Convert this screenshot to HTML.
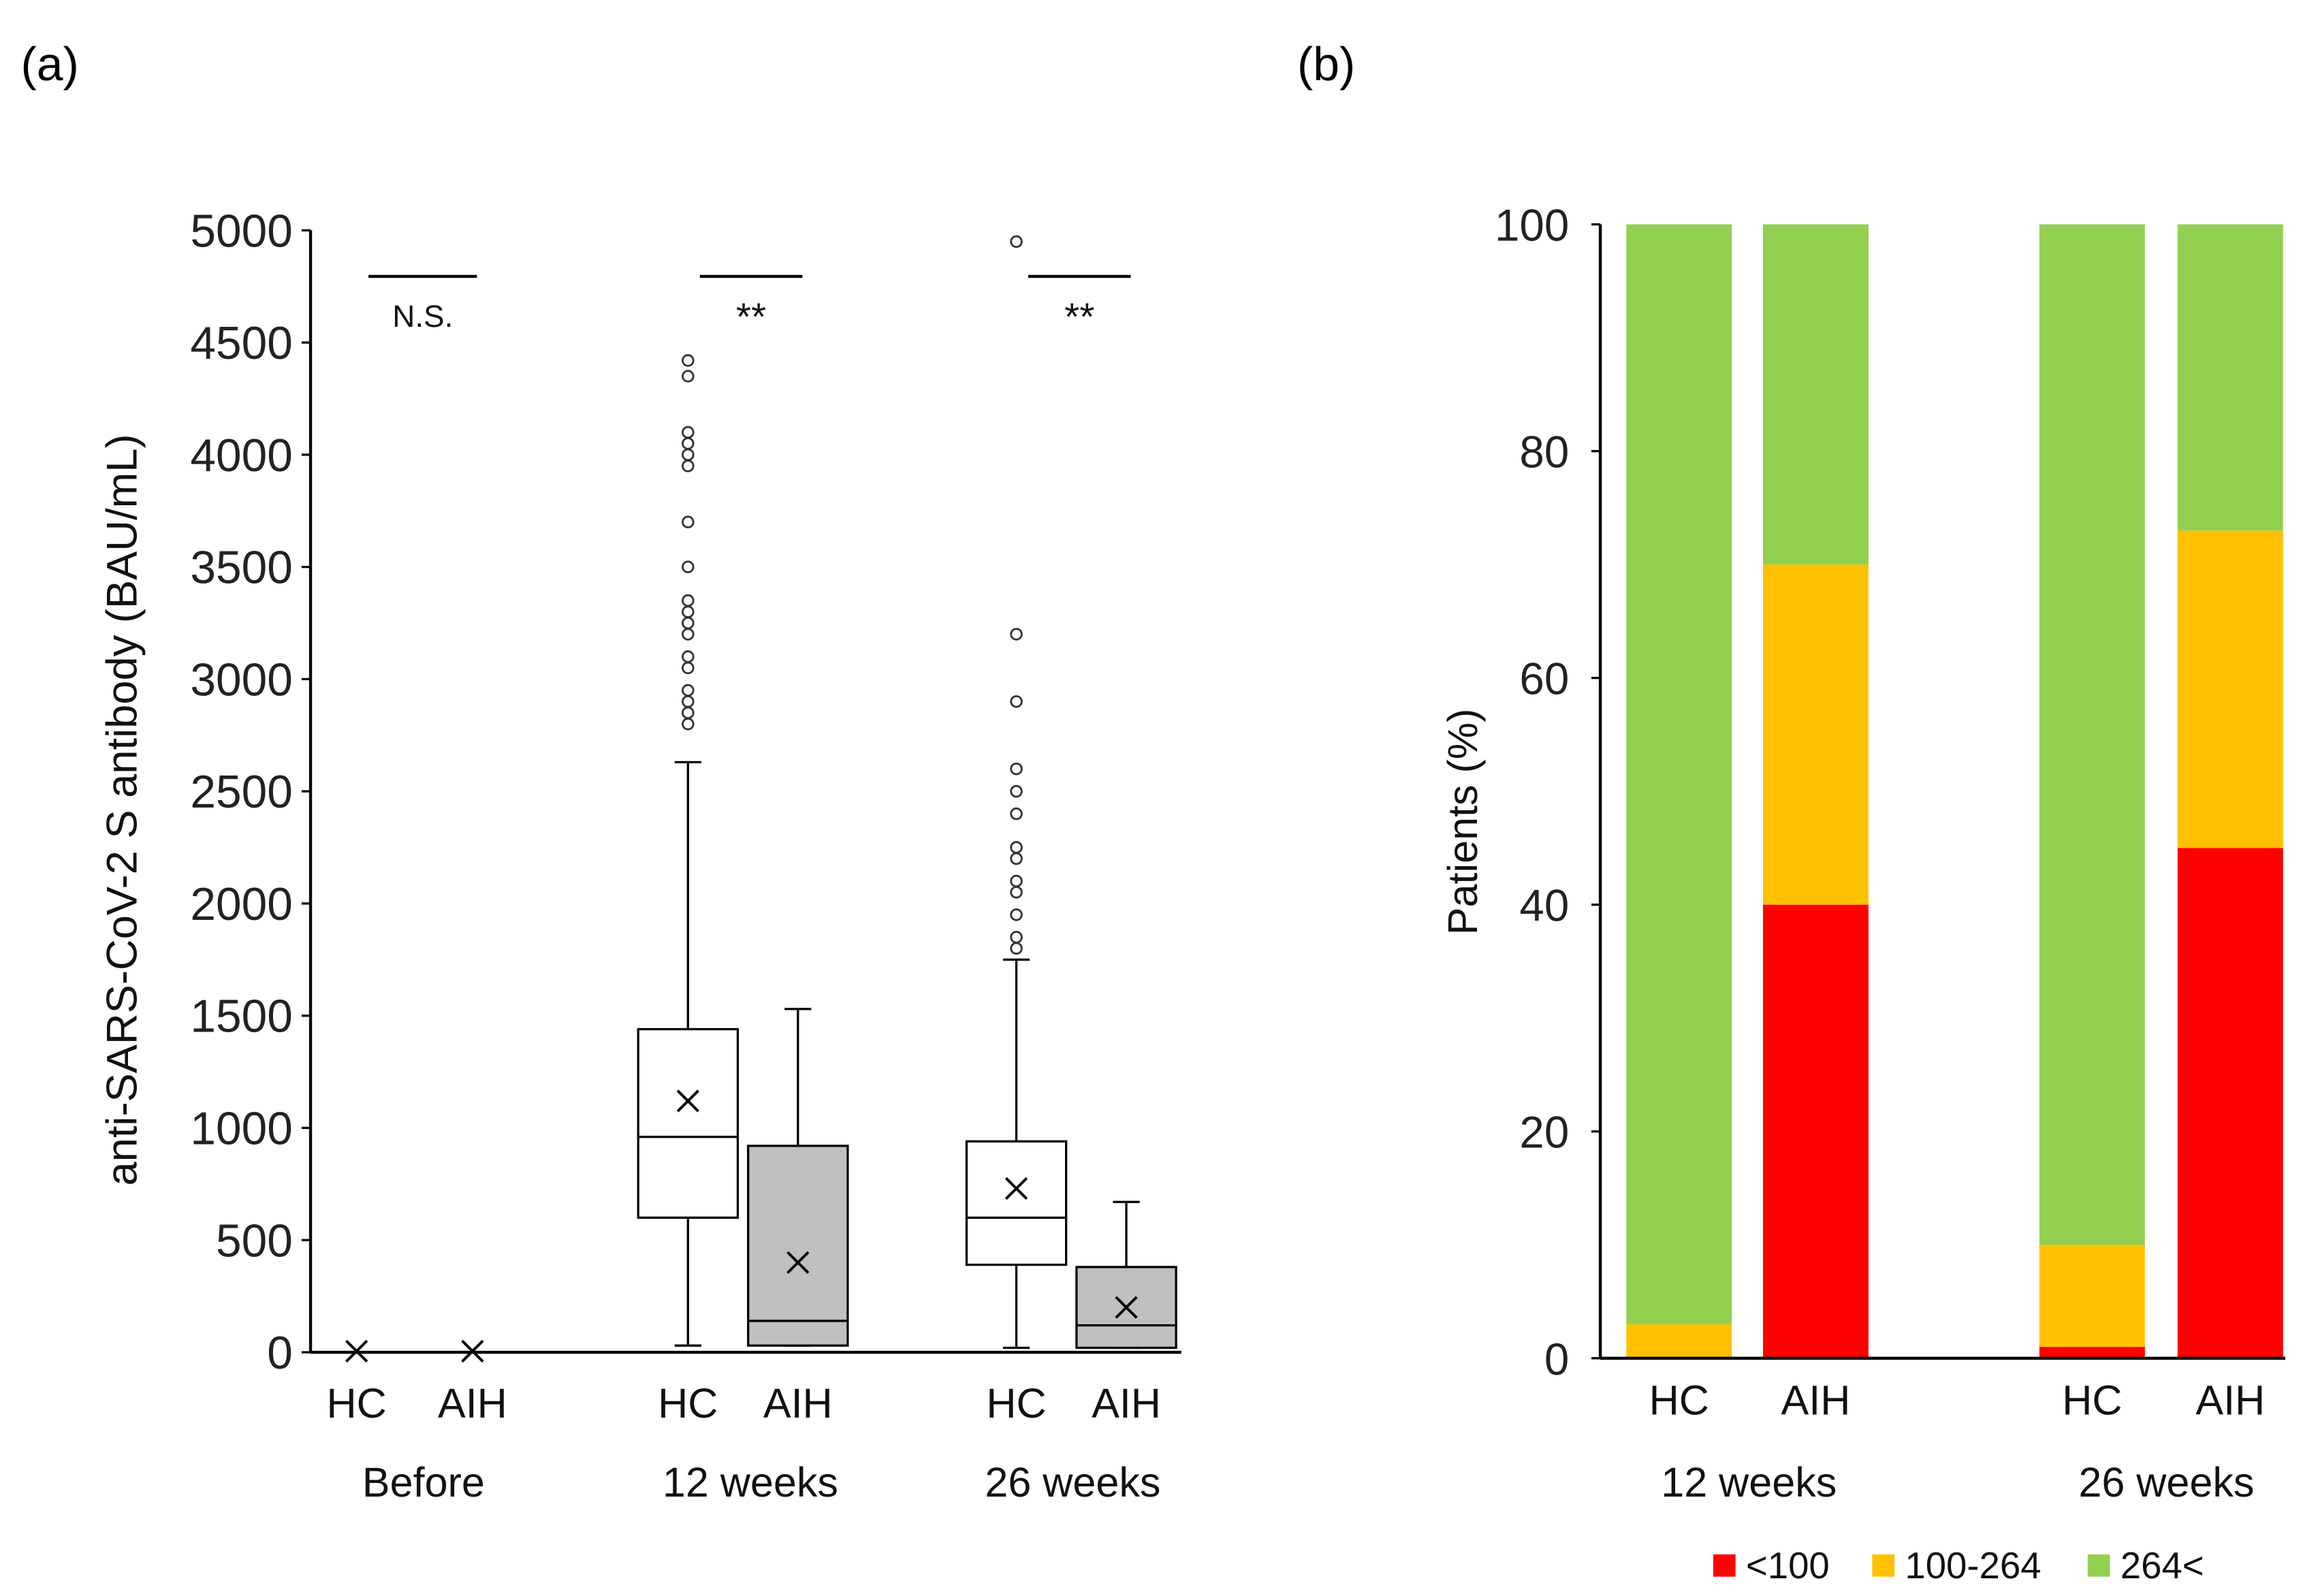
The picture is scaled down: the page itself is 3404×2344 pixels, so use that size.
<!DOCTYPE html>
<html><head><meta charset="utf-8"><style>
html,body{margin:0;padding:0;background:#fff;}
svg{display:block;font-family:"Liberation Sans",sans-serif;}
</style></head><body>
<svg id="chart" width="3404" height="2344" viewBox="0 0 1560 1074" preserveAspectRatio="none">
<text x="14" y="54" font-size="32">(a)</text>
<text x="873" y="54" font-size="32">(b)</text>
<g id="pa"></g>
<g id="pb"></g>
</svg>
<script>
// ---- Panel (a) data ----
const boxCats = ["HC","AIH","HC","AIH","HC","AIH"];
const boxGroups = ["Before","12 weeks","26 weeks"];
const boxLow = [0,0,30,30,20,20];
const boxQ1 = [0,0,600,30,390,20];
const boxMed = [0,0,960,140,600,120];
const boxQ3 = [0,0,1440,920,940,380];
const boxHigh = [0,0,2630,1530,1750,670];
const boxMean = [5,5,1120,400,730,200];
const boxOut = [[],[],[2800,2850,2900,2950,3050,3100,3200,3250,3300,3350,3500,3700,3950,4000,4050,4100,4350,4420],[],[1800,1850,1950,2050,2100,2200,2250,2400,2500,2600,2900,3200,4950],[]];
const boxTicks = [0,500,1000,1500,2000,2500,3000,3500,4000,4500,5000];
const sigLabels = ["N.S.","**","**"];
// ---- Panel (b) data ----
const barCats = ["HC","AIH","HC","AIH"];
const barGroups = ["12 weeks","26 weeks"];
const redVals = [0,40,1,45];
const yellowVals = [3,30,9,28];
const greenVals = [97,30,90,27];
const barTicks = [0,20,40,60,80,100];
const legendLabels = ["<100","100-264","264<"];

const NS="http://www.w3.org/2000/svg";
function mk(p,tag,attrs,txt){const e=document.createElementNS(NS,tag);for(const k in attrs)e.setAttribute(k,attrs[k]);if(txt!==undefined)e.textContent=txt;p.appendChild(e);return e;}

// Panel a
const pa=document.getElementById('pa');
const ya=v=>910-(v/5000)*755;
const boxX=[240,318,463,537,684,758];
const groupX=[285,505,722];
const bw=67;
let e=mk(pa,'line',{x1:209,y1:155,x2:209,y2:910,stroke:'#000','stroke-width':2});

e=mk(pa,'line',{x1:209,y1:910,x2:795,y2:910,stroke:'#000','stroke-width':2});

boxTicks.forEach(t=>{
  mk(pa,'line',{x1:203,y1:ya(t),x2:209,y2:ya(t),stroke:'#000','stroke-width':1.5});
  e=mk(pa,'text',{x:197,y:ya(t)+11,'font-size':31,'text-anchor':'end',fill:'#222'},t);
  
});
e=mk(pa,'text',{x:0,y:0,'font-size':29,'text-anchor':'middle',transform:'translate(92,545) rotate(-90)',fill:'#111'},'anti-SARS-CoV-2 S antibody (BAU/mL)');

boxCats.forEach((c,i)=>{
  const x=boxX[i], g=mk(pa,'g',{});
  
  if(boxHigh[i]>0){
    mk(g,'line',{x1:x,y1:ya(boxHigh[i]),x2:x,y2:ya(boxLow[i]),stroke:'#000','stroke-width':1.5});
    mk(g,'line',{x1:x-9,y1:ya(boxHigh[i]),x2:x+9,y2:ya(boxHigh[i]),stroke:'#000','stroke-width':1.5});
    mk(g,'line',{x1:x-9,y1:ya(boxLow[i]),x2:x+9,y2:ya(boxLow[i]),stroke:'#000','stroke-width':1.5});
    mk(g,'rect',{x:x-bw/2,y:ya(boxQ3[i]),width:bw,height:ya(boxQ1[i])-ya(boxQ3[i]),fill:c==='AIH'?'#c0c0c0':'#fff',stroke:'#000','stroke-width':1.5});
    mk(g,'line',{x1:x-bw/2,y1:ya(boxMed[i]),x2:x+bw/2,y2:ya(boxMed[i]),stroke:'#000','stroke-width':1.5});
  }
  const my=ya(boxMean[i]);
  mk(g,'path',{d:`M${x-7},${my-7}L${x+7},${my+7}M${x-7},${my+7}L${x+7},${my-7}`,stroke:'#000','stroke-width':1.8});
  boxOut[i].forEach(o=>{
    e=mk(g,'circle',{cx:x,cy:ya(o),r:3.6,fill:'none',stroke:'#333','stroke-width':1.3});
    
  });
  e=mk(pa,'text',{x:x,y:954,'font-size':28,'text-anchor':'middle',fill:'#111'},c);
  
});
boxGroups.forEach((gname,j)=>{
  e=mk(pa,'text',{x:groupX[j],y:1007,'font-size':28,'text-anchor':'middle',fill:'#111'},gname);
  
  const x1=boxX[2*j]+8, x2=boxX[2*j+1]+3;
  e=mk(pa,'line',{x1:x1,y1:186,x2:x2,y2:186,stroke:'#000','stroke-width':2});
  
  e=mk(pa,'text',{x:(x1+x2)/2,y:j===0?220:222,'font-size':j===0?21:26,'text-anchor':'middle',fill:'#111'},sigLabels[j]);
  
});

// Panel b
const pb=document.getElementById('pb');
const yb=v=>914-(v/100)*763;
const barX=[1130,1222,1408,1501];
const bgX=[1177,1458];
const barW=71;
const cols=['#ff0000','#ffc000','#92d050'];
barCats.forEach((c,i)=>{
  const g=mk(pb,'g',{});
  
  let base=0;
  [redVals[i],yellowVals[i],greenVals[i]].forEach((v,k)=>{
    if(v>0){e=mk(g,'rect',{x:barX[i]-barW/2,y:yb(base+v),width:barW,height:yb(base)-yb(base+v),fill:cols[k]});
      }
    base+=v;
  });
  e=mk(pb,'text',{x:barX[i],y:952,'font-size':28,'text-anchor':'middle',fill:'#111'},c);
  
});
e=mk(pb,'line',{x1:1077,y1:151,x2:1077,y2:914,stroke:'#000','stroke-width':2});

e=mk(pb,'line',{x1:1077,y1:914,x2:1538,y2:914,stroke:'#000','stroke-width':2});

barTicks.forEach(t=>{
  mk(pb,'line',{x1:1071,y1:yb(t),x2:1077,y2:yb(t),stroke:'#000','stroke-width':1.5});
  e=mk(pb,'text',{x:1056,y:yb(t)+11,'font-size':30,'text-anchor':'end',fill:'#222'},t);
  
});
e=mk(pb,'text',{x:0,y:0,'font-size':28,'text-anchor':'middle',transform:'translate(994,553) rotate(-90)',fill:'#111'},'Patients (%)');

barGroups.forEach((gname,j)=>{
  e=mk(pb,'text',{x:bgX[j],y:1007,'font-size':28,'text-anchor':'middle',fill:'#111'},gname);
  
});
const legX=[1153,1260,1405];
legendLabels.forEach((l,k)=>{
  const g=mk(pb,'g',{});
  
  mk(g,'rect',{x:legX[k],y:1046,width:15,height:15,fill:cols[k]});
  mk(g,'text',{x:legX[k]+22,y:1062,'font-size':25,fill:'#111'},l);
});
</script>
</body></html>
